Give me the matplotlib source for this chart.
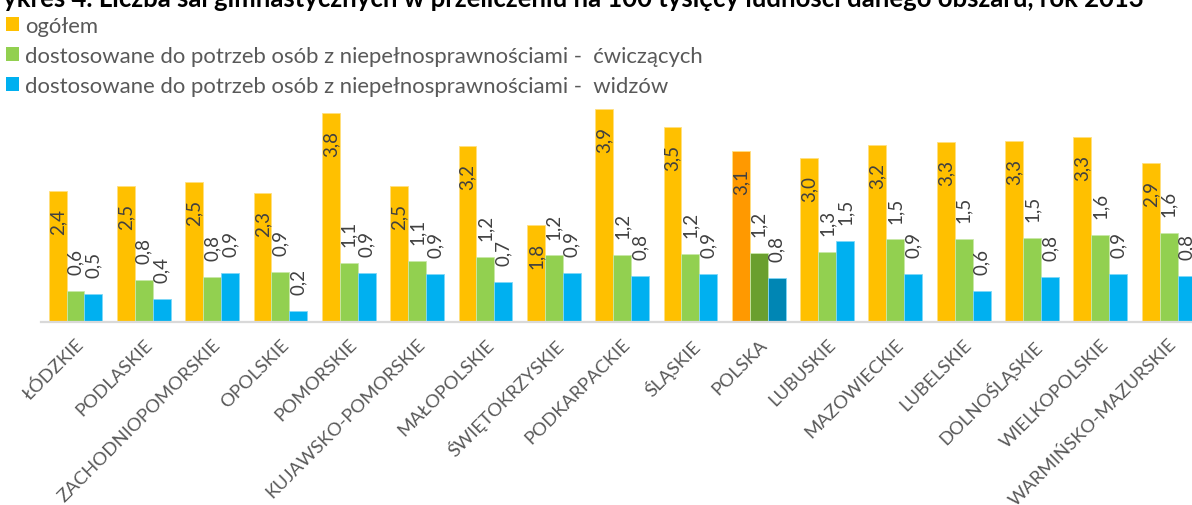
import numpy as np
import matplotlib
matplotlib.use('Agg')
import matplotlib.pyplot as plt
from matplotlib.patches import Patch

plt.rcParams['font.family'] = ['Lato', 'DejaVu Sans']

# data (per 100 tys. ludnosci)
regions = ['ŁÓDZKIE', 'PODLASKIE', 'ZACHODNIOPOMORSKIE', 'OPOLSKIE', 'POMORSKIE',
           'KUJAWSKO-POMORSKIE', 'MAŁOPOLSKIE', 'ŚWIĘTOKRZYSKIE', 'PODKARPACKIE',
           'ŚLĄSKIE', 'POLSKA', 'LUBUSKIE', 'MAZOWIECKIE', 'LUBELSKIE',
           'DOLNOŚLĄSKIE', 'WIELKOPOLSKIE', 'WARMIŃSKO-MAZURSKIE']
ogolem = [2.36, 2.46, 2.53, 2.33, 3.78, 2.46, 3.18, 1.76, 3.86, 3.53, 3.09,
          2.96, 3.20, 3.26, 3.27, 3.34, 2.87]
cwiczacych = [0.56, 0.76, 0.81, 0.90, 1.06, 1.10, 1.17, 1.20, 1.21, 1.23, 1.24,
              1.27, 1.49, 1.50, 1.51, 1.57, 1.60]
widzow = [0.51, 0.41, 0.88, 0.19, 0.89, 0.86, 0.72, 0.88, 0.83, 0.86, 0.79,
          1.47, 0.86, 0.56, 0.81, 0.86, 0.83]
series_names = ['ogółem',
                'dostosowane do potrzeb osób z niepełnosprawnościami -  ćwiczących',
                'dostosowane do potrzeb osób z niepełnosprawnościami -  widzów']
title = 'Wykres 4. Liczba sal gimnastycznych w przeliczeniu na 100 tysięcy ludności danego obszaru, rok 2013'

colors = ['#FFC000', '#92D050', '#00B0F0']
edge_colors = ['#FFE07F', '#C8E8A7', '#7FD7F7']
highlight = 'POLSKA'
highlight_colors = ['#FF9900', '#6A9F2E', '#0086B4']

W, H = 1192, 506
fig = plt.figure(figsize=(W / 100, H / 100), dpi=100)

ymax = 4.4
px_per_unit = 55.2
ax = fig.add_axes([41.3 / W, (H - 322.7) / H, 1161.5 / W, ymax * px_per_unit / H])

x = np.arange(len(regions))
w = 0.262
hi = regions.index(highlight)
label_off = 12.2  # points

for k, vals in enumerate([ogolem, cwiczacych, widzow]):
    fc = [highlight_colors[k] if i == hi else colors[k] for i in range(len(regions))]
    ax.bar(x + (k - 1) * w, vals, w, color=fc, edgecolor=edge_colors[k], linewidth=0.6)
    for i, v in enumerate(vals):
        txt = '{:.1f}'.format(v).replace('.', ',')
        if k == 0:
            ax.annotate(txt, (x[i] + (k - 1) * w, v), xytext=(0, -label_off),
                        textcoords='offset points', rotation=90, ha='center', va='top',
                        fontsize=13.5, color='#404040')
        else:
            ax.annotate(txt, (x[i] + (k - 1) * w, v), xytext=(0, label_off),
                        textcoords='offset points', rotation=90, ha='center', va='bottom',
                        fontsize=13.5, color='#404040')

ax.set_xlim(-0.5, len(regions) - 0.5)
ax.set_ylim(0, ymax)
ax.set_xticks(x)
ax.set_xticklabels(regions, rotation=45, ha='right', rotation_mode='anchor',
                   fontsize=13.3, color='#595959')
ax.tick_params(axis='x', length=0, pad=10)
ax.set_yticks([])
for s in ['top', 'right', 'left']:
    ax.spines[s].set_visible(False)
ax.spines['bottom'].set_color('#D9D9D9')
ax.spines['bottom'].set_linewidth(1.6)

handles = [Patch(facecolor=c) for c in colors]
fig.legend(handles, series_names, loc='upper left', bbox_to_anchor=(6 / W, 1 - 17 / H),
           frameon=False, fontsize=15.9, labelcolor='#595959', borderpad=0,
           borderaxespad=0, handlelength=0.59, handleheight=0.59,
           handletextpad=0.27, labelspacing=0.45)

fig.text(-24 / W, 1 - 7 / H, title, fontsize=18.5, fontweight='bold', color='black',
         ha='left', va='baseline')

fig.savefig('out.png', dpi=100)
